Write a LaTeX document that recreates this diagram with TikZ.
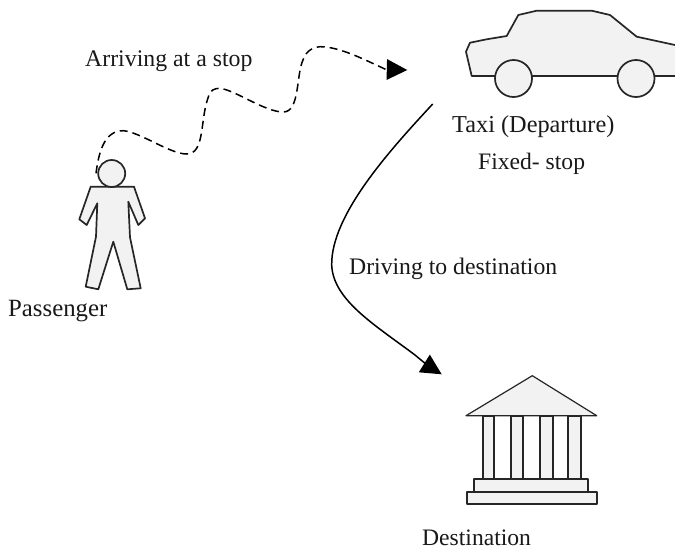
\documentclass[tikz,border=0pt]{standalone}
\usepackage{fontspec}
\setmainfont{Liberation Serif}
\usetikzlibrary{arrows.meta}
\tikzset{
  x=1pt,y=-1pt,
  lbl/.style={inner sep=0pt,anchor=base west,font=\fontsize{#1}{26}\selectfont,text=black!90},
  lbl/.default=23.7,
  figline/.style={draw=black!85,line width=1.7pt,line join=round,fill=black!5},
  route/.style={black,line width=1.5pt},
  tip/.style={-{Triangle[length=20.5pt,width=20.5pt]}},
}
\begin{document}
\begin{tikzpicture}
\useasboundingbox (0,0) rectangle (675,549);
\fill[white] (0,0) rectangle (675,549);
% passenger
\draw[figline] (90.7,186.7) -- (79.3,219.3) -- (86.7,225) -- (97.3,203.3) -- (96,236.7) -- (85.7,286.7) -- (98.3,289.3) -- (113.3,241.7) -- (127.3,289.3) -- (140.7,288.3) -- (130,237.3) -- (128.3,201.7) -- (138.3,225) -- (145,218.3) -- (134,186.7) -- cycle;
\node[figline,circle,minimum size=27pt,inner sep=0pt] (passenger) at (111.7,173.5) {};
% taxi
\path[figline,draw=none] (471.7,75) -- (466,51.7) -- (470,42.7) -- (486.7,39.3) -- (506.7,36) -- (518.3,15) -- (536.7,10.7) -- (591.7,10.7) -- (610,15) -- (636.7,36.7) -- (675,45) -- (675,76) -- cycle;
\draw[figline,fill=none] (675,76) -- (471.7,76) -- (466,51.7) -- (470,42.7) -- (486.7,39.3) -- (506.7,36) -- (518.3,15) -- (536.7,10.7) -- (591.7,10.7) -- (610,15) -- (636.7,36.7) -- (675,45);
\node[figline,circle,minimum size=37pt,inner sep=0pt] (wheelA) at (513.5,78.5) {};
\node[figline,circle,minimum size=37pt,inner sep=0pt] (wheelB) at (636,78.5) {};
% destination
\draw[figline,line width=1.2pt] (466,415.7) -- (532.3,375.7) -- (596.7,415.7) -- cycle;
\foreach \a/\b in {482.7/494.3,510.7/522.7,540/552.7,568.3/580.7}{
  \filldraw[figline] (\a,415.7) rectangle (\b,479);
}
\draw[figline] (474.3,479) rectangle (588.3,491.7);
\draw[figline] (466.7,491.7) rectangle (596.7,504);
% labels
\node[lbl=23.8] (arrive) at (85,66) {Arriving at a stop};
\node[lbl=24.3] (taxi) at (452,132) {Taxi (Departure)};
\node[lbl=23.6] (fixed) at (478,169) {Fixed- stop};
\node[lbl=23.7] (drive) at (349,274) {Driving to destination};
\node[lbl=24.8] (pass) at (8,316) {Passenger};
\node[lbl=23.6] (dest) at (422,545) {Destination};
% connectors
\coordinate (headtop) at (96,173.3);
\coordinate (taxiin) at (407.3,70);
\coordinate (taxiout) at (432.7,104);
\coordinate (destin) at (441.7,374.3);
\draw[route,dash pattern=on 8pt off 5pt,tip] (headtop)
  .. controls (99,150) and (105,130.7) .. (123.3,130.7)
  .. controls (140,132) and (170,154) .. (186.7,154)
  .. controls (205,154) and (200,120) .. (208,98)
  .. controls (210,90) and (214,88.3) .. (220,88.3)
  .. controls (235,90) and (265,112) .. (283.3,112)
  .. controls (300,112) and (296,75) .. (303,60)
  .. controls (306,50) and (315,46.7) .. (320,46.7)
  .. controls (340,46.7) and (365,60) .. (386,69.5) -- (taxiin);
\draw[route,tip] (taxiout)
  .. controls (390,150) and (331,215) .. (331.7,265)
  .. controls (333,300) and (375,325) .. (415,355)
  .. controls (422,361) and (430,367) .. (destin);
\end{tikzpicture}
\end{document}
